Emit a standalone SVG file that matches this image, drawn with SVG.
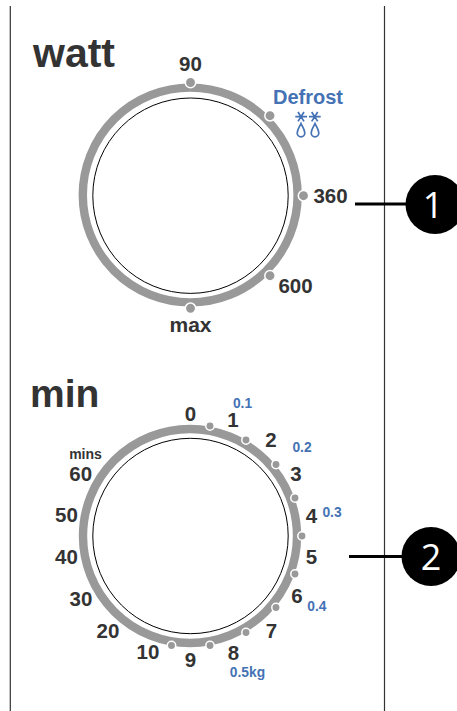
<svg xmlns="http://www.w3.org/2000/svg" width="457" height="711" viewBox="0 0 457 711">
<style>
text{font-family:"Liberation Sans",Arial,sans-serif;font-weight:700;fill:#333}
.n{font-size:20.500px;text-anchor:middle}
.b{font-size:13.800px;fill:#4472b4;text-anchor:middle}
.ring{fill:none;stroke:#999;stroke-width:8.400}
.in{fill:#fff;stroke:#000;stroke-width:1}
.dot{fill:#999;stroke:#fff;stroke-width:1.500}
.ln{stroke:#000;fill:none}
.badge{fill:#000}
.bt{font-family:"Open Sans","Liberation Sans",sans-serif;font-weight:400;font-size:36px;fill:#fff;text-anchor:middle}
.ice{fill:none;stroke:#4472b4;stroke-width:1.700}
</style>
<g id="panel-lines">
<path stroke="#333" fill="none" stroke-width="1.200" d="M10.300 6V711M384.500 6V711"/>
</g>
<g id="connectors">
<path class="ln" stroke-width="3" d="M355 204H410M349 556.500H405"/>
</g>
<g id="dial-watt">
<circle class="ring" cx="190.200" cy="195" r="107.400"/>
<circle class="in" cx="190.500" cy="195.700" r="97.700"/>
<g class="dot">
<circle cx="190.500" cy="82.500" r="5.200"/>
<circle cx="270" cy="115.700" r="5.200"/>
<circle cx="303.500" cy="195.700" r="5.200"/>
<circle cx="270" cy="275.700" r="5.200"/>
<circle cx="190.500" cy="308.300" r="5.200"/>
</g>
<text x="33" y="67" font-size="41">watt</text>
<text class="n" x="190.500" y="71">90</text>
<text class="n" x="330.500" y="203">360</text>
<text class="n" x="295.500" y="292.500">600</text>
<text class="n" x="190.500" y="331.500" style="font-size:21px">max</text>
<text class="b" x="308" y="103.500" style="font-size:20px">Defrost</text>
<g class="ice">
<path d="M295.300 116.700H307M298 112L304 121.400M304 112L298 121.400M309 116.700H320.700M311.700 112L317.700 121.400M317.700 112L311.700 121.400"/>
<path d="M301 123.500C299.500 127 297.200 129.500 297.200 133A3.800 3.800 0 0 0 304.800 133C304.800 129.500 302.500 127 301 123.500Z"/>
<path d="M315 123.500C313.500 127 311.200 129.500 311.200 133A3.800 3.800 0 0 0 318.800 133C318.800 129.500 316.500 127 315 123.500Z"/>
</g>
</g>
<g id="dial-min">
<circle class="ring" cx="190" cy="536" r="107"/>
<circle class="in" cx="190.500" cy="536" r="97.700"/>
<g class="dot">
<circle cx="210" cy="426" r="4.200"/>
<circle cx="246" cy="440" r="4.200"/>
<circle cx="276" cy="464.500" r="4.200"/>
<circle cx="295" cy="498" r="4.200"/>
<circle cx="302" cy="536" r="4.200"/>
<circle cx="295" cy="574" r="4.200"/>
<circle cx="276" cy="607.500" r="4.200"/>
<circle cx="246" cy="632.500" r="4.200"/>
<circle cx="210" cy="645.500" r="4.200"/>
<circle cx="171.500" cy="645.500" r="4.200"/>
</g>
<text x="30" y="407" font-size="39">min</text>
<text class="n" x="190.500" y="420.700">0</text>
<text class="n" x="233" y="427">1</text>
<text class="n" x="271" y="447">2</text>
<text class="n" x="296" y="480.700">3</text>
<text class="n" x="311.500" y="522.700">4</text>
<text class="n" x="311.500" y="564">5</text>
<text class="n" x="297" y="603">6</text>
<text class="n" x="271.500" y="638">7</text>
<text class="n" x="233.500" y="660">8</text>
<text class="n" x="190.500" y="666.500">9</text>
<text class="n" x="148" y="659">10</text>
<text class="n" x="108" y="638">20</text>
<text class="n" x="81" y="606">30</text>
<text class="n" x="66.500" y="564">40</text>
<text class="n" x="66.500" y="522">50</text>
<text class="n" x="80.700" y="480.700">60</text>
<text x="85.500" y="459" font-size="14" text-anchor="middle">mins</text>
<text class="b" x="242.500" y="407.700">0.1</text>
<text class="b" x="302" y="451.700">0.2</text>
<text class="b" x="332" y="517.300">0.3</text>
<text class="b" x="316.800" y="610.700">0.4</text>
<text class="b" x="247.500" y="676.700">0.5kg</text>
</g>
<g id="badge-1">
<circle class="badge" cx="435" cy="204.500" r="29.500"/>
<text class="bt" x="433" y="217.500">1</text>
</g>
<g id="badge-2">
<circle class="badge" cx="431" cy="556.500" r="29.500"/>
<text class="bt" x="431" y="569.500">2</text>
</g>
</svg>
